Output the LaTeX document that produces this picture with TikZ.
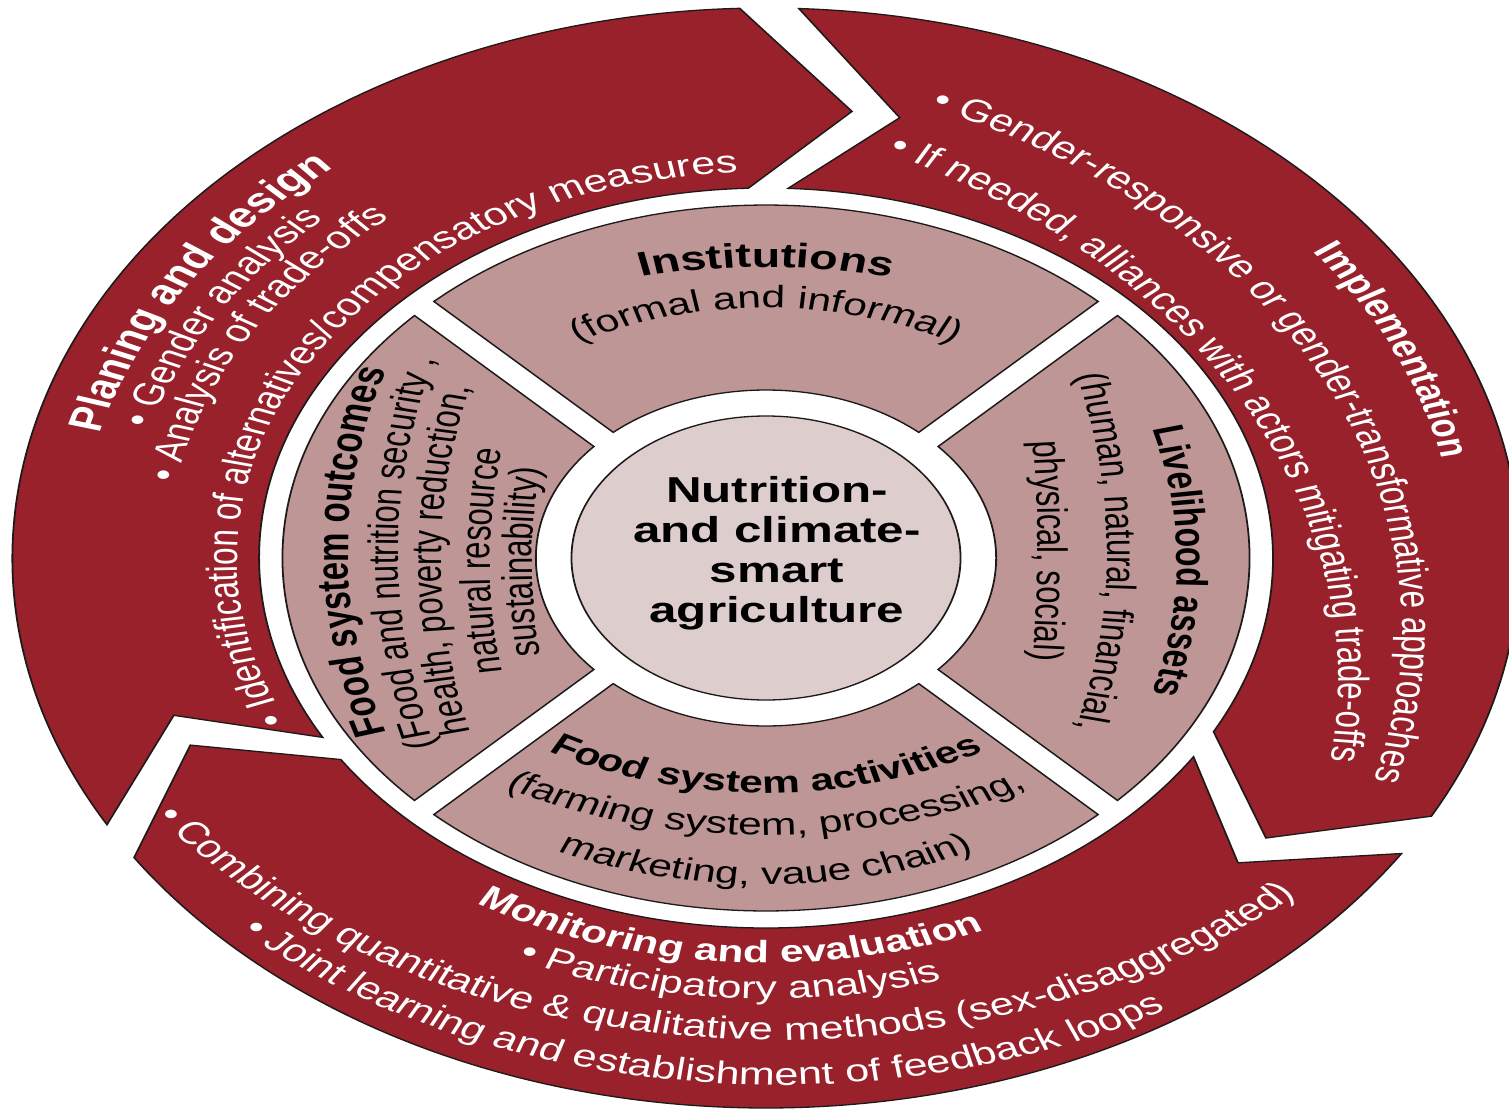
\documentclass[tikz,border=0pt]{standalone}
\usepackage{fontspec}
\setmainfont{Liberation Sans}
\usetikzlibrary{decorations.text}
\definecolor{ringred}{HTML}{98212B}
\definecolor{secpink}{HTML}{BE9696}
\definecolor{midpink}{HTML}{DECDCD}
\definecolor{edgecol}{HTML}{1E1A1A}
\newcommand\fRO{\fontsize{31.5}{36}\selectfont}
\newcommand\fRI{\fontsize{31}{36}\selectfont}
\newcommand\fBP{\bfseries\fontsize{35}{40}\selectfont}
\newcommand\fBO{\bfseries\fontsize{31}{36}\selectfont}
\newcommand\fBI{\bfseries\fontsize{32}{36}\selectfont}
\newcommand\arctxt[6]{\path[decorate,decoration={text along path,#6}] ([shift={(#4:#3)}]#1,#2) arc[start angle=#4,end angle=#5,radius=#3];}
\begin{document}
\begin{tikzpicture}[x=1pt,y=1pt,
  redseg/.style={fill=ringred,draw=edgecol,line width=1.3pt,line join=miter},
  secseg/.style={fill=secpink,draw=edgecol,line width=1.3pt,line join=miter}]
\useasboundingbox (0,0) rectangle (1509,-1108);
\fill[white] (0,0) rectangle (1509,-1108);
\begin{scope}[transform canvas={xscale=1.37}]
\begin{scope}[shift={(559.124,-558)}]
% outer ring: three arrow segments
\path[redseg] (209:550) arc[start angle=209,end angle=92,radius=550] -- (82:451) -- (92:370) arc[start angle=92,end angle=209,radius=370] -- (200:460) -- cycle;
\path[redseg] (87.5:550) arc[start angle=87.5,end angle=-28,radius=550] -- (-37.5:460) -- (-28:370) arc[start angle=-28,end angle=87.5,radius=370] -- (77.5:451) -- cycle;
\path[redseg] (-32.5:550) arc[start angle=-32.5,end angle=-147,radius=550] -- (-156:460) -- (-147:370) arc[start angle=-147,end angle=-32.5,radius=370] -- (-41.5:460) -- cycle;
% inner sectors
\path[secseg] (46.62:353) arc[start angle=46.62,end angle=133.38,radius=353] -- (131.59:168) arc[start angle=131.59,end angle=48.41,radius=168] -- cycle;
\path[secseg] (136.62:353) arc[start angle=136.62,end angle=223.38,radius=353] -- (221.59:168) arc[start angle=221.59,end angle=138.41,radius=168] -- cycle;
\path[secseg] (226.62:353) arc[start angle=226.62,end angle=313.38,radius=353] -- (311.59:168) arc[start angle=311.59,end angle=228.41,radius=168] -- cycle;
\path[secseg] (-43.38:353) arc[start angle=-43.38,end angle=43.38,radius=353] -- (41.59:168) arc[start angle=41.59,end angle=-41.59,radius=168] -- cycle;
% hub
\path[fill=midpink,draw=edgecol,line width=1.3pt] (0,0) circle[radius=142];
\node[align=center,font=\bfseries\fontsize{36}{40}\selectfont,inner sep=0pt] (hub) at (8,5) {Nutrition-\\and climate-\\smart\\agriculture};
% top sector
\arctxt{0}{-126}{417}{110}{70}{text={|\fBI\fontsize{34}{38}\selectfont|Institutions},text align=center}
\arctxt{0}{-38}{288}{125}{55}{text={|\fRI|(formal and informal)},text align=center}
% right sector
\arctxt{-190}{-3}{490}{25}{-25}{text={|\fBI|Livelihood assets},text align=center}
\arctxt{-466}{6}{715}{18}{-18}{text={|\fRI|(human, natural, financial,},text align=center}
\arctxt{-1301.5}{7}{1500}{6}{-6}{text={|\fRI|physical, social)},text align=center}
% left sector
\arctxt{295}{6}{600}{204}{156}{text={|\fBI\fontsize{33}{36}\selectfont|Food system outcomes},text align=center}
\arctxt{431.4}{5}{700}{202}{158}{text={|\fRI|(Food and nutrition security ,},text align=center}
\arctxt{462.8}{-2}{700}{200}{160}{text={|\fRI|health, poverty reduction,},text align=center}
\arctxt{498.5}{-3}{700}{194}{166}{text={|\fRI|natural resource},text align=center}
\arctxt{529.2}{-4}{700}{192}{168}{text={|\fRI|sustainability)},text align=center}
% bottom sector
\arctxt{0}{87.7}{322.7}{-125}{-55}{text={|\fBI\fontsize{31}{36}\selectfont|Food system activities},text align=center}
\arctxt{0}{130.8}{408}{-126}{-54}{text={|\fRI|(farming system, processing,},text align=center}
\arctxt{0}{33.3}{360}{-122}{-58}{text={|\fRI|marketing, vaue chain)},text align=center}
% planning and design
\arctxt{0}{0}{502}{165.6}{95}{text={|\fBP|Planing and design},text color=white,text align=left}
\arctxt{0}{0}{468}{163.9}{100}{text={|\fRO|• Gender analysis},text color=white,text align=left}
\arctxt{0}{0}{437}{170.1}{100}{text={|\fRO|• Analysis of trade-offs},text color=white,text align=left}
\arctxt{0}{0}{386}{205.1}{70}{text={|\fRO|• Identification of alternatives/compensatory measures},text color=white,text align=left}
% implementation
\arctxt{0}{0}{503}{37.5}{-5}{text={|\fBO|Implementation},text color=white,text align=left}
\arctxt{-103.3}{-71.1}{567.6}{66.8}{-30}{text={|\fRO|• Gender-responsive or gender-transformative approaches},text color=white,text align=left}
\arctxt{-170.2}{-122.6}{588}{63.9}{-25}{text={|\fRO|• If needed, alliances with actors mitigating trade-offs},text color=white,text align=left}
% monitoring and evaluation
\arctxt{0}{0}{405}{-121.4}{-40}{text={|\fBO|Monitoring and evaluation},text color=white,text align=left}
\arctxt{0}{0}{441}{-114.3}{-45}{text={|\fRO|• Participatory analysis},text color=white,text align=left}
\arctxt{7.5}{88.4}{570.4}{-142.6}{-30}{text={|\fRO|• Combining quantitative {\&} qualitative methods (sex-disaggregated)},text color=white,text align=left}
\arctxt{8.8}{48}{575}{-132.9}{-40}{text={|\fRO|• Joint learning and establishment of feedback loops},text color=white,text align=left}
\end{scope}
\end{scope}
\end{tikzpicture}
\end{document}
